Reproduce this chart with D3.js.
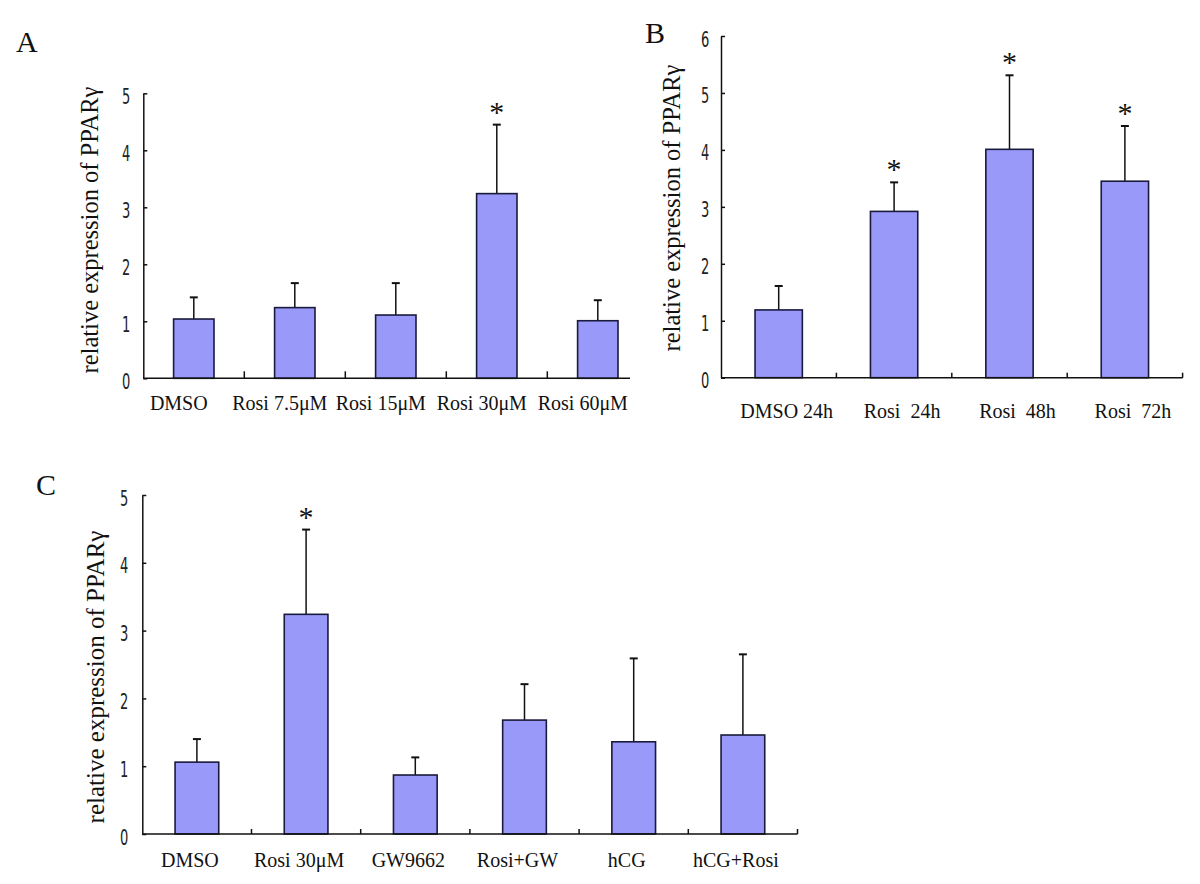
<!DOCTYPE html>
<html>
<head>
<meta charset="utf-8">
<script src="https://cdn.jsdelivr.net/npm/d3@7"></script>
<style>
  html, body { margin: 0; padding: 0; background: #ffffff; }
  svg { display: block; }
  .cat { font-family: "Liberation Serif", "Times New Roman", serif; font-size: 20px; white-space: pre; fill: #111; }
  .ttl { font-family: "Liberation Serif", "Times New Roman", serif; fill: #111; }
  .letter { font-family: "Liberation Serif", "Times New Roman", serif; font-size: 30px; fill: #111; }
  .star { font-family: "Liberation Serif", "Times New Roman", serif; font-size: 30px; fill: #111; }
  .yax text { font-family: "Liberation Sans Narrow", "DejaVu Sans Condensed", sans-serif; font-size: 22px; fill: #222; }
</style>
</head>
<body>
<svg id="chart" width="1200" height="884"></svg>
<script>
// ---------- data ----------
const catsA = ["DMSO", "Rosi 7.5\u03bcM", "Rosi 15\u03bcM", "Rosi 30\u03bcM", "Rosi 60\u03bcM"];
const meanA = [1.04, 1.24, 1.11, 3.24, 1.01];
const errA  = [0.38, 0.43, 0.56, 1.21, 0.36];
const sigA  = [false, false, false, true, false];
const ticksA = [0, 1, 2, 3, 4, 5];

const catsB = ["DMSO 24h", "Rosi  24h", "Rosi  48h", "Rosi  72h"];
const meanB = [1.19, 2.92, 4.01, 3.45];
const errB  = [0.42, 0.51, 1.30, 0.97];
const sigB  = [false, true, true, true];
const ticksB = [0, 1, 2, 3, 4, 5, 6];

const catsC = ["DMSO", "Rosi 30\u03bcM", "GW9662", "Rosi+GW", "hCG", "hCG+Rosi"];
const meanC = [1.06, 3.24, 0.87, 1.68, 1.36, 1.46];
const errC  = [0.34, 1.25, 0.26, 0.53, 1.23, 1.19];
const sigC  = [false, true, false, false, false, false];
const ticksC = [0, 1, 2, 3, 4, 5];

const yTitle = "relative expression of PPAR\u03b3";

// ---------- drawing ----------
const svg = d3.select("#chart");
const BAR_FILL = "#9999fa";
const BAR_STROKE = "#1a1a3c";
const SX = 0.66; // horizontal squeeze of the condensed tick digits

function panel(cfg) {
  const g = svg.append("g");
  const n = cfg.cats.length;
  const x = d3.scaleBand()
    .domain(cfg.cats)
    .range([cfg.left, cfg.left + n * cfg.step])
    .paddingInner(1 - cfg.barFrac)
    .paddingOuter((1 - cfg.barFrac) / 2);
  const y = d3.scaleLinear().domain([0, d3.max(cfg.ticks)]).range([cfg.bottom, cfg.top]);

  const rows = cfg.cats.map((c, i) => ({ c, m: cfg.mean[i], e: cfg.err[i], s: cfg.sig[i] }));

  // error bars (upper only)
  g.selectAll(".eb").data(rows).enter().append("line")
    .attr("x1", d => x(d.c) + x.bandwidth() / 2)
    .attr("x2", d => x(d.c) + x.bandwidth() / 2)
    .attr("y1", d => y(d.m))
    .attr("y2", d => y(d.m + d.e))
    .attr("stroke", "#111").attr("stroke-width", 1.5);
  g.selectAll(".cap").data(rows).enter().append("line")
    .attr("x1", d => x(d.c) + x.bandwidth() / 2 - 4)
    .attr("x2", d => x(d.c) + x.bandwidth() / 2 + 4)
    .attr("y1", d => y(d.m + d.e))
    .attr("y2", d => y(d.m + d.e))
    .attr("stroke", "#111").attr("stroke-width", 2);

  // bars
  g.selectAll(".bar").data(rows).enter().append("rect")
    .attr("x", d => x(d.c))
    .attr("width", x.bandwidth())
    .attr("y", d => y(d.m))
    .attr("height", d => y(0) - y(d.m))
    .attr("fill", BAR_FILL)
    .attr("stroke", BAR_STROKE)
    .attr("stroke-width", 1.6);

  // significance stars
  g.selectAll(".star").data(rows.filter(d => d.s)).enter().append("text")
    .attr("class", "star")
    .attr("x", d => x(d.c) + x.bandwidth() / 2)
    .attr("y", d => y(d.m + d.e) - 3)
    .attr("text-anchor", "middle")
    .text("*");

  // y axis
  const yAxis = d3.axisLeft(y).tickValues(cfg.ticks).tickFormat(d3.format("d"))
    .tickSizeInner(-4).tickSizeOuter(0).tickPadding(cfg.tickGap);
  const ya = g.append("g").attr("class", "yax").attr("transform", `translate(${cfg.left},0)`).call(yAxis);
  ya.select(".domain").attr("stroke", "#111").attr("stroke-width", 1.5);
  ya.selectAll(".tick line").attr("stroke", "#111").attr("stroke-width", 1.5);
  ya.selectAll(".tick text")
    .attr("x", -cfg.tickGap / SX)
    .attr("dy", "10px")
    .attr("transform", `scale(${SX},1)`);

  // x axis line + boundary ticks
  g.append("line")
    .attr("x1", cfg.left).attr("x2", cfg.axisEnd)
    .attr("y1", y(0)).attr("y2", y(0))
    .attr("stroke", "#111").attr("stroke-width", 1.5);
  const step = x.step();
  const bounds = d3.range(1, cfg.endTick ? n + 1 : n).map(i => cfg.left + i * step);
  g.selectAll(".xt").data(bounds).enter().append("line")
    .attr("x1", d => d).attr("x2", d => d)
    .attr("y1", y(0)).attr("y2", y(0) - cfg.xTick)
    .attr("stroke", "#111").attr("stroke-width", 1.5);

  // category labels
  g.selectAll(".cat").data(rows).enter().append("text")
    .attr("class", "cat")
    .attr("x", d => x(d.c) + x.bandwidth() / 2 + cfg.labelDx)
    .attr("y", y(0) + cfg.labelDy)
    .attr("text-anchor", "middle")
    .text(d => d.c);

  // y title
  g.append("text")
    .attr("class", "ttl")
    .attr("transform", `translate(${cfg.titleX},${cfg.titleY}) rotate(-90)`)
    .attr("text-anchor", "middle")
    .style("font-size", cfg.titleSize + "px")
    .text(yTitle);

  // panel letter
  g.append("text").attr("class", "letter")
    .attr("x", cfg.letterX).attr("y", cfg.letterY).text(cfg.letter);
}

panel({ cats: catsA, mean: meanA, err: errA, sig: sigA, ticks: ticksA,
  left: 143.3, top: 93.3, bottom: 378.3, step: 101, barFrac: 0.4, axisEnd: 630, endTick: false,
  tickGap: 13, xTick: 7, labelDy: 32, labelDx: -15,
  titleX: 98, titleY: 230, titleSize: 24.5, letter: "A", letterX: 16, letterY: 52 });

panel({ cats: catsB, mean: meanB, err: errB, sig: sigB, ticks: ticksB,
  left: 721, top: 36, bottom: 377.7, step: 115.4, barFrac: 0.41, axisEnd: 1182.7, endTick: true,
  tickGap: 11.7, xTick: 5, labelDy: 40, labelDx: 8,
  titleX: 680, titleY: 208, titleSize: 24.5, letter: "B", letterX: 645, letterY: 43 });

panel({ cats: catsC, mean: meanC, err: errC, sig: sigC, ticks: ticksC,
  left: 142.3, top: 495, bottom: 834, step: 109.2, barFrac: 0.4, axisEnd: 797.5, endTick: true,
  tickGap: 14, xTick: 5, labelDy: 33, labelDx: -7,
  titleX: 104, titleY: 677, titleSize: 25, letter: "C", letterX: 36, letterY: 495 });
</script>
</body>
</html>
